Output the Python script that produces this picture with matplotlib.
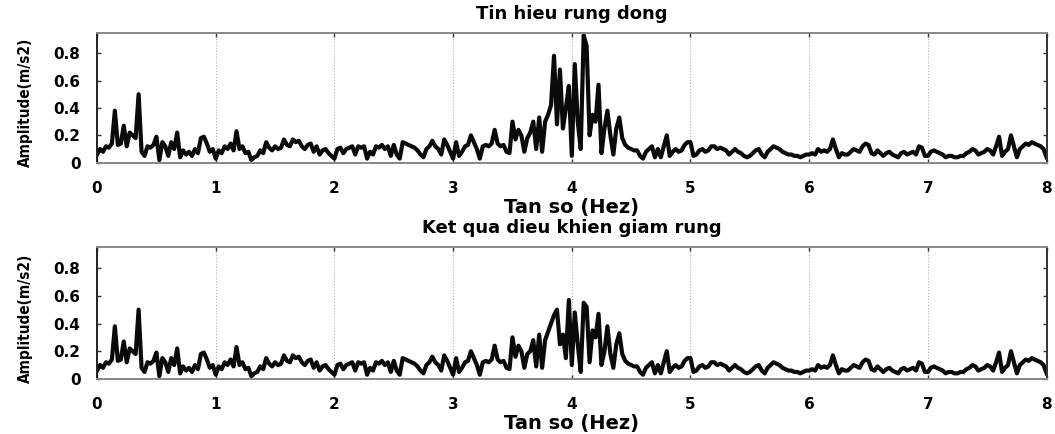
"""Vibration spectrum before and after damping control (two stacked panels)."""

import matplotlib

matplotlib.use("Agg")
import matplotlib.pyplot as plt
import numpy as np

# Spectrum amplitude (m/s2), one value every 0.025 Hz from 0 to 8 Hz
amp_raw = [
    # 0.0 - 1.0 Hz
    0.06, 0.10, 0.08, 0.12, 0.11, 0.14, 0.38, 0.13, 0.14, 0.27,
    0.12, 0.22, 0.20, 0.18, 0.50, 0.08, 0.05, 0.12, 0.11, 0.13,
    0.19, 0.02, 0.15, 0.12, 0.05, 0.15, 0.10, 0.22, 0.04, 0.09,
    0.06, 0.08, 0.05, 0.10, 0.07, 0.18, 0.19, 0.14, 0.08, 0.10,
    # 1.0 - 2.0 Hz
    0.03, 0.09, 0.07, 0.12, 0.10, 0.14, 0.09, 0.23, 0.10, 0.12,
    0.07, 0.08, 0.02, 0.04, 0.05, 0.09, 0.07, 0.15, 0.11, 0.09,
    0.12, 0.10, 0.11, 0.17, 0.13, 0.12, 0.17, 0.15, 0.16, 0.12,
    0.10, 0.13, 0.14, 0.08, 0.12, 0.06, 0.09, 0.10, 0.07, 0.05,
    # 2.0 - 3.0 Hz
    0.03, 0.10, 0.11, 0.07, 0.10, 0.11, 0.12, 0.06, 0.12, 0.11,
    0.12, 0.03, 0.08, 0.06, 0.12, 0.11, 0.13, 0.10, 0.12, 0.05,
    0.13, 0.06, 0.03, 0.15, 0.14, 0.13, 0.12, 0.11, 0.09, 0.06,
    0.04, 0.10, 0.12, 0.16, 0.12, 0.10, 0.06, 0.17, 0.13, 0.08,
    # 3.0 - 4.0 Hz
    0.03, 0.15, 0.05, 0.08, 0.12, 0.13, 0.20, 0.15, 0.10, 0.03,
    0.12, 0.13, 0.12, 0.14, 0.24, 0.14, 0.12, 0.13, 0.08, 0.07,
    0.30, 0.17, 0.24, 0.20, 0.08, 0.18, 0.22, 0.30, 0.10, 0.33,
    0.08, 0.30, 0.35, 0.42, 0.78, 0.28, 0.68, 0.25, 0.40, 0.56,
    # 4.0 - 5.0 Hz
    0.05, 0.72, 0.30, 0.10, 0.93, 0.85, 0.20, 0.35, 0.30, 0.57,
    0.07, 0.25, 0.38, 0.20, 0.06, 0.25, 0.33, 0.18, 0.13, 0.11,
    0.10, 0.09, 0.09, 0.05, 0.03, 0.08, 0.10, 0.12, 0.04, 0.10,
    0.04, 0.12, 0.20, 0.05, 0.08, 0.10, 0.08, 0.09, 0.13, 0.15,
    # 5.0 - 6.0 Hz
    0.15, 0.05, 0.06, 0.09, 0.10, 0.08, 0.09, 0.12, 0.12, 0.10,
    0.11, 0.10, 0.09, 0.06, 0.08, 0.10, 0.08, 0.07, 0.05, 0.04,
    0.05, 0.07, 0.09, 0.10, 0.06, 0.04, 0.08, 0.10, 0.12, 0.11,
    0.10, 0.08, 0.07, 0.06, 0.06, 0.05, 0.05, 0.04, 0.05, 0.06,
    # 6.0 - 7.0 Hz
    0.06, 0.07, 0.06, 0.10, 0.08, 0.09, 0.08, 0.10, 0.17, 0.10,
    0.04, 0.07, 0.06, 0.06, 0.08, 0.10, 0.09, 0.08, 0.12, 0.14,
    0.13, 0.07, 0.06, 0.09, 0.07, 0.05, 0.07, 0.08, 0.06, 0.05,
    0.04, 0.07, 0.08, 0.06, 0.07, 0.08, 0.06, 0.12, 0.11, 0.05,
    # 7.0 - 8.0 Hz
    0.05, 0.08, 0.09, 0.08, 0.07, 0.06, 0.04, 0.05, 0.05, 0.04,
    0.04, 0.05, 0.05, 0.07, 0.08, 0.10, 0.09, 0.06, 0.07, 0.08,
    0.10, 0.09, 0.06, 0.12, 0.19, 0.05, 0.08, 0.10, 0.20, 0.12,
    0.04, 0.10, 0.12, 0.14, 0.13, 0.15, 0.14, 0.13, 0.12, 0.10,
    0.04,
]

# After control only the 3.5 - 4.475 Hz band changes
CTRL_START, CTRL_STOP = 140, 180
ctrl_band = [
    0.30, 0.16, 0.24, 0.20, 0.08, 0.18, 0.20, 0.28, 0.09, 0.32,
    0.08, 0.28, 0.34, 0.40, 0.46, 0.50, 0.25, 0.32, 0.15, 0.57,
    0.10, 0.48, 0.25, 0.05, 0.55, 0.52, 0.12, 0.35, 0.30, 0.47,
    0.10, 0.20, 0.38, 0.18, 0.08, 0.25, 0.33, 0.18, 0.13, 0.11,
]
amp_ctrl = amp_raw[:CTRL_START] + ctrl_band + amp_raw[CTRL_STOP:]

titles = ["Tin hieu rung dong", "Ket qua dieu khien giam rung"]
x_ticks = [0, 1, 2, 3, 4, 5, 6, 7, 8]
y_ticks = [0, 0.2, 0.4, 0.6, 0.8]
y_tick_labels = ["0", "0.2", "0.4", "0.6", "0.8"]

plt.rcParams["font.family"] = ["DejaVu Sans"]


def style_axes(ax, title):
    ax.set_xlim(0, 8)
    ax.set_ylim(0, 0.95)
    ax.set_xticks(x_ticks)
    ax.set_xticklabels([str(t) for t in x_ticks], fontsize=11, fontweight="bold")
    ax.set_yticks(y_ticks)
    ax.set_yticklabels(y_tick_labels, fontsize=11, fontweight="bold")
    ax.tick_params(direction="in", length=3, width=1, top=True, right=True,
                   color="#333333")
    ax.tick_params(axis="x", pad=13)
    ax.tick_params(axis="y", pad=12)
    ax.grid(axis="x", linestyle=":", color="#b0b0b0", linewidth=0.8)
    for spine in ax.spines.values():
        spine.set_color("#888888")
        spine.set_linewidth(1.4)
    ax.spines["left"].set_color("#222222")
    ax.spines["right"].set_color("#333333")
    ax.set_title(title, fontsize=13, fontweight="bold", pad=10)
    ax.set_xlabel("Tan so (Hez)", fontsize=14, fontweight="bold")
    ax.xaxis.set_label_coords(0.5, -0.27)
    ax.set_ylabel("Amplitude(m/s2)", fontsize=11, fontweight="bold",
                  fontstretch="condensed")
    ax.yaxis.set_label_coords(-0.068, 0.46)


def main():
    fig = plt.figure(figsize=(10.55, 4.34), dpi=100)
    ax_top = fig.add_axes([0.092, 0.625, 0.9, 0.30])
    ax_bot = fig.add_axes([0.092, 0.127, 0.9, 0.303])

    freq = np.linspace(0, 8, len(amp_raw))
    for ax, amp, title in zip([ax_top, ax_bot], [amp_raw, amp_ctrl], titles):
        ax.plot(freq, amp, color="#0a0a0a", linewidth=3.0)
        style_axes(ax, title)

    fig.savefig("out.png", dpi=100, facecolor="white")


if __name__ == "__main__":
    main()
